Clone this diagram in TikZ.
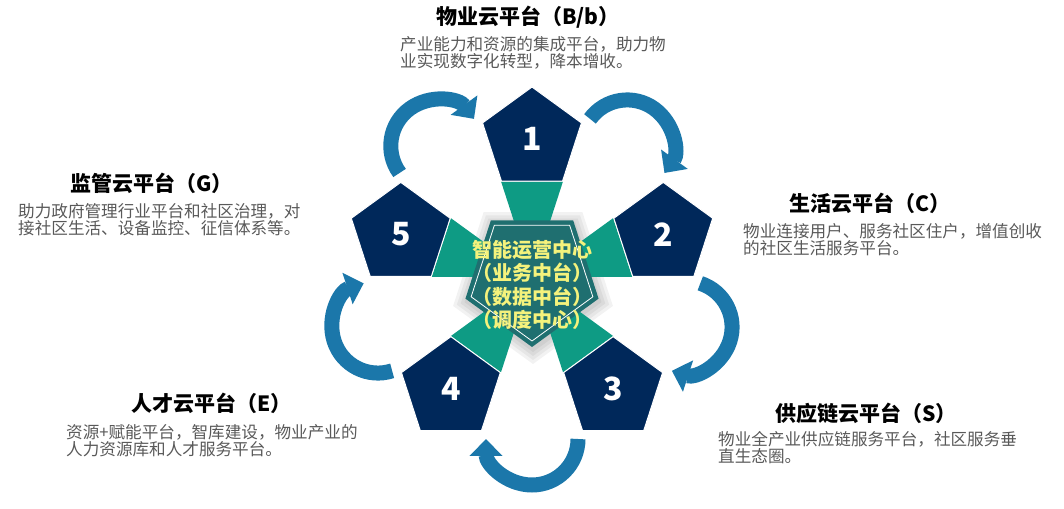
\documentclass[tikz,border=0pt]{standalone}
\usepackage{fontspec}
\setmainfont{Noto Sans CJK SC}
\usetikzlibrary{arrows.meta,calc,shapes.geometric,backgrounds}

\definecolor{navy}{HTML}{00285A}
\definecolor{tealband}{HTML}{0E9B84}
\definecolor{hubfill}{HTML}{1F6F70}
\definecolor{arrowblue}{HTML}{1B77AA}
\definecolor{hubyellow}{HTML}{F4F27C}
\definecolor{descgray}{HTML}{595959}

\tikzstyle{pentshape} = [regular polygon,regular polygon sides=5,inner sep=0pt]
\tikzstyle{platformtitle} = [font=\fontsize{21}{24}\selectfont\bfseries,text=black,inner sep=0pt]
\tikzstyle{platformdesc} = [font=\fontsize{16.6}{15.5}\selectfont,text=descgray,align=left,anchor=west,inner sep=0pt]
\tikzstyle{numdecorate} = [pentshape,minimum size=104,fill=navy,draw=white,line width=1pt,
  text=white,font=\fontsize{32}{32}\selectfont\bfseries]
\tikzstyle{arrowdecorate} = [-{Triangle[width=32pt,length=17pt]},line width=15pt,draw=arrowblue]

\begin{document}
\begin{tikzpicture}[x=1pt,y=1pt]
  \useasboundingbox (0,0) rectangle (1064,508);
  \coordinate (hubc) at (532,231);

  %% soft shadow under the hub
  \begin{pgfonlayer}{background}
    \foreach \r in {84,80,76,72}
    {
      \node[pentshape,shape border rotate=180,minimum size=2*\r,fill=black,fill opacity=0.05]
        at ($(hubc)+(1,-3)$) {};
    }
  \end{pgfonlayer}

  %% outer pentagons and teal bands
  \foreach \num/\ang [evaluate=\ang as \rot using \ang-90] in {1/90, 2/18, 3/-54, 4/-126, 5/162}
  {
    \node[numdecorate,shape border rotate=\rot] (p\num) at ($(hubc)+(\ang:138)$) {\num};
    \begin{pgfonlayer}{background}
      \fill[tealband] (hubc) -- (p\num.corner 3) -- (p\num.corner 4) -- cycle;
    \end{pgfonlayer}
  }

  %% hub
  \node[pentshape,shape border rotate=180,minimum size=140,fill=hubfill] (hub) at (hubc) {};
  \node[pentshape,shape border rotate=180,minimum size=128,draw=white,line width=0.8pt] (hubline) at (hubc) {};
  \node[align=center,text=hubyellow,font=\fontsize{20}{23.3}\selectfont\bfseries] (hublabel)
    at (532,223) {智能运营中心\\（业务中台）\\（数据中台）\\（调度中心）};

  %% curved arrows
  \foreach \i/\ang in {1/54, 2/-18, 3/-90, 4/-162, 5/126}
  {
    \coordinate (arc\i) at ($(hubc)+(\ang:162)$);
    \draw[arrowdecorate] ($(arc\i)+(\ang+90:46)$) arc[start angle=\ang+90,end angle=\ang-90,radius=46];
  }

  %% labels
  \node[platformtitle] (t1) at (528,491) {物业云平台（B/b）};
  \node[platformdesc] (d1) at (400,455.5) {产业能力和资源的集成平台，助力物\\业实现数字化转型，降本增收。};
  \node[platformtitle] (t2) at (870,305) {生活云平台（C）};
  \node[platformdesc] (d2) at (743,268.5) {物业连接用户、服务社区住户，增值创收\\的社区生活服务平台。};
  \node[platformtitle] (t3) at (866,95) {供应链云平台（S）};
  \node[platformdesc] (d3) at (718,60.5) {物业全产业供应链服务平台，社区服务垂\\直生态圈。};
  \node[platformtitle] (t4) at (211.5,105) {人才云平台（E）};
  \node[platformdesc] (d4) at (66,67) {资源+赋能平台，智库建设，物业产业的\\人力资源库和人才服务平台。};
  \node[platformtitle] (t5) at (151.5,325) {监管云平台（G）};
  \node[platformdesc] (d5) at (18,288.5) {助力政府管理行业平台和社区治理，对\\接社区生活、设备监控、征信体系等。};
\end{tikzpicture}
\end{document}
